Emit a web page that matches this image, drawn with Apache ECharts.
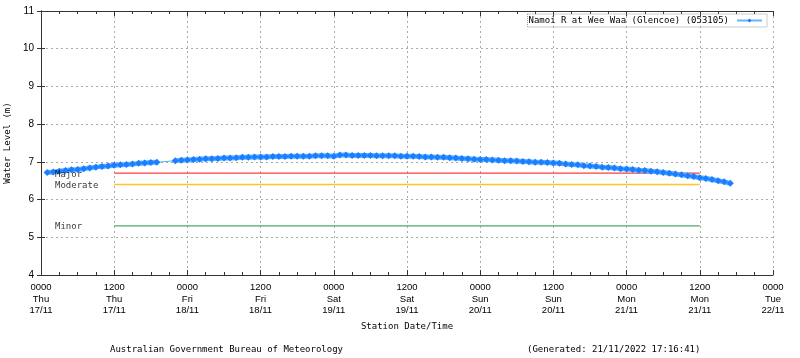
<!DOCTYPE html>
<html>
<head>
<meta charset="utf-8">
<script src="https://cdn.jsdelivr.net/npm/echarts@6/dist/echarts.min.js"></script>
<style>
html,body{margin:0;padding:0;background:#fff;}
#chart{width:800px;height:358px;}
</style>
</head>
<body>
<div id="chart"></div>
<script>
// Hours since 0000 Thu 17/11 (one reading per hour starting at hour 1)
var startHour = 1;
// Water level (m); null = missing readings
var levels = [
  6.72, 6.73, 6.75, 6.77, 6.79, 6.80, 6.82, 6.84, 6.86, 6.88,
  6.89, 6.91, 6.92, 6.93, 6.94, 6.96, 6.97, 6.98, 6.99, null,
  null, 7.03, 7.04, 7.05, 7.06, 7.07, 7.08, 7.08, 7.09, 7.10,
  7.10, 7.11, 7.12, 7.12, 7.13, 7.13, 7.13, 7.14, 7.14, 7.14,
  7.15, 7.15, 7.15, 7.15, 7.16, 7.16, 7.16, 7.15, 7.18, 7.18,
  7.17, 7.17, 7.17, 7.17, 7.16, 7.16, 7.16, 7.16, 7.15, 7.15,
  7.15, 7.14, 7.13, 7.13, 7.12, 7.12, 7.11, 7.10, 7.09, 7.08,
  7.07, 7.06, 7.06, 7.05, 7.04, 7.03, 7.03, 7.02, 7.01, 7.00,
  6.99, 6.99, 6.98, 6.97, 6.96, 6.94, 6.93, 6.92, 6.90, 6.89,
  6.88, 6.86, 6.85, 6.84, 6.82, 6.81, 6.80, 6.78, 6.77, 6.75,
  6.74, 6.72, 6.70, 6.68, 6.66, 6.63, 6.61, 6.58, 6.56, 6.53,
  6.50, 6.47, 6.43
];
// Flood classification thresholds
var thresholdNames = ['Major', 'Moderate', 'Minor'];
var thresholdLevels = [6.7, 6.4, 5.3];
var thresholdColors = ['#ff3c3c', '#ffc425', '#4fa870'];
var thresholdStart = 12, thresholdEnd = 108, thresholdLabelHour = 2.3;
// Tick labels (every 12 hours)
var tickTimes = ['0000','1200','0000','1200','0000','1200','0000','1200','0000','1200','0000'];
var tickDays  = ['Thu','Thu','Fri','Fri','Sat','Sat','Sun','Sun','Mon','Mon','Tue'];
var tickDates = ['17/11','17/11','18/11','18/11','19/11','19/11','20/11','20/11','21/11','21/11','22/11'];
var seriesName = 'Namoi R at Wee Waa (Glencoe) (053105)';

var mono = 'DejaVu Sans Mono';
var sans = 'Liberation Sans';

var pts = levels.map(function(v, i){ return [startHour + i, v]; });

var series = [
  {
    name: 'gap', type: 'line', data: pts, connectNulls: true, showSymbol: false,
    lineStyle: {color: '#5aaeff', width: 1.2}, silent: true, z: 2
  },
  {
    name: seriesName, type: 'line', data: pts, connectNulls: false,
    symbol: 'diamond', symbolSize: 7, showAllSymbol: true,
    itemStyle: {color: '#1a7fff'},
    lineStyle: {color: '#5aaeff', width: 5},
    z: 3
  }
];
thresholdNames.forEach(function(n, k){
  series.push({
    name: n + '-line', type: 'line', showSymbol: false, silent: true,
    data: [[thresholdStart, thresholdLevels[k]], [thresholdEnd, thresholdLevels[k]]],
    lineStyle: {color: thresholdColors[k], width: 1.3}, z: 1
  });
  series.push({
    name: n + '-label', type: 'scatter', symbolSize: 0, silent: true,
    data: [[thresholdLabelHour, thresholdLevels[k]]],
    label: {show: true, position: 'right', distance: 0, formatter: n,
      fontFamily: mono, fontSize: 9, color: '#000', textBorderWidth: 0, offset: [0, 1]},
    z: 4
  });
});

var chart = echarts.init(document.getElementById('chart'), null, {renderer: 'canvas'});
var axisLineStyle = {color: '#333', width: 1};
chart.setOption({
  animation: false,
  backgroundColor: '#fff',
  grid: {left: 41, right: 27, top: 11, bottom: 83, containLabel: false, outerBoundsMode: 'none'},
  title: [
    {text: 'Australian Government Bureau of Meteorology', left: 110, top: 345,
      textStyle: {fontFamily: mono, fontSize: 9, fontWeight: 'normal', color: '#000'}, padding: 0},
    {text: '(Generated: 21/11/2022 17:16:41)', left: 527, top: 345,
      textStyle: {fontFamily: mono, fontSize: 9, fontWeight: 'normal', color: '#000'}, padding: 0}
  ],
  legend: {
    data: [{name: seriesName, itemStyle: {color: '#1a7fff'}, lineStyle: {color: '#66b3ff', width: 2}}],
    right: 33, top: 14, align: 'right',
    itemWidth: 25, itemHeight: 5, itemGap: 0, padding: [2, 4, 2, 1],
    borderColor: '#999', borderWidth: 1, borderType: 'dotted',
    textStyle: {fontFamily: mono, fontSize: 9, color: '#000', padding: [0, 3, 0, 0]}
  },
  xAxis: [
    {
      type: 'value', position: 'bottom', min: 0, max: 120, interval: 12,
      name: 'Station Date/Time', nameLocation: 'middle', nameGap: 47,
      nameTextStyle: {fontFamily: mono, fontSize: 9, color: '#000'},
      axisLine: {lineStyle: axisLineStyle},
      axisTick: {show: true, inside: true, length: 5, lineStyle: axisLineStyle},
      minorTick: {show: true, splitNumber: 4, length: 3, lineStyle: axisLineStyle},
      splitLine: {show: true, lineStyle: {color: '#aaa', type: [2, 3], width: 1}},
      axisLabel: {
        margin: 7, fontFamily: sans, fontSize: 9.5, color: '#000', lineHeight: 11.5,
        formatter: function(v){ var i = Math.round(v / 12); return tickTimes[i] + '\n' + tickDays[i] + '\n' + tickDates[i]; }
      }
    },
    {
      type: 'value', position: 'top', min: 0, max: 120, interval: 12,
      axisLine: {lineStyle: axisLineStyle},
      axisTick: {show: true, inside: true, length: 5, lineStyle: axisLineStyle},
      minorTick: {show: true, splitNumber: 4, length: 3, lineStyle: axisLineStyle},
      splitLine: {show: false}, axisLabel: {show: false}
    }
  ],
  yAxis: [
    {
      type: 'value', position: 'left', min: 4, max: 11, interval: 1,
      name: 'Water Level (m)', nameLocation: 'middle', nameGap: 28,
      nameTextStyle: {fontFamily: mono, fontSize: 9, color: '#000'},
      axisLine: {show: true, lineStyle: axisLineStyle},
      axisTick: {show: true, inside: true, length: 4, lineStyle: axisLineStyle},
      splitLine: {show: true, lineStyle: {color: '#aaa', type: [2, 3], width: 1}},
      axisLabel: {margin: 7, fontFamily: sans, fontSize: 10, color: '#000'}
    },
    {
      type: 'value', position: 'right', min: 4, max: 11, interval: 1,
      axisLine: {show: true, lineStyle: axisLineStyle},
      axisTick: {show: true, inside: true, length: 4, lineStyle: axisLineStyle},
      splitLine: {show: false}, axisLabel: {show: false}
    }
  ],
  series: series
});
</script>
</body>
</html>
